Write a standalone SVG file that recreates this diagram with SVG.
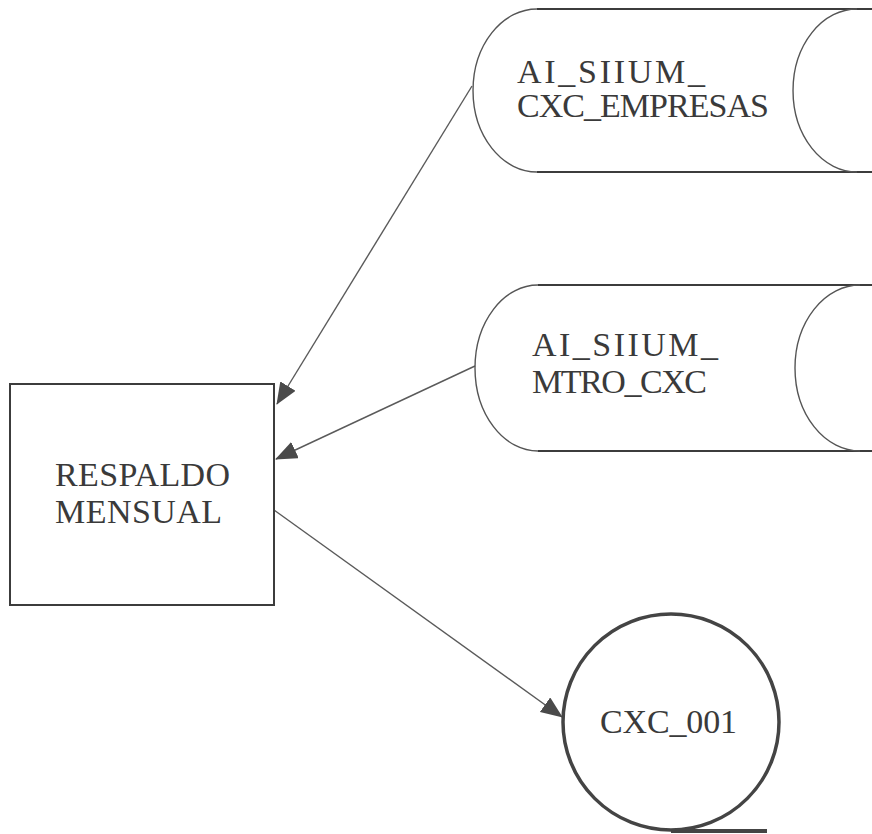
<svg xmlns="http://www.w3.org/2000/svg" width="872" height="834" viewBox="0 0 872 834">
<style>
.lbl{font-family:"Liberation Serif","Times New Roman",serif;font-size:34px;fill:#3a3a3a}
.edge{fill:none;stroke:#3c3c3c;stroke-width:2}
.arc{fill:none;stroke:#555;stroke-width:1.4}
.conn{fill:none;stroke:#5a5a5a;stroke-width:1.4}
</style>
<defs>
<marker id="ah" viewBox="0 0 22 18" refX="21" refY="9" markerWidth="22" markerHeight="18" markerUnits="userSpaceOnUse" orient="auto">
<path d="M0,0 L22,9 L0,18 z" fill="#4a4a4a"/>
</marker>
</defs>
<rect width="872" height="834" fill="#fff"/>
<g id="connectors">
<line class="conn" x1="472" y1="86" x2="277" y2="404" marker-end="url(#ah)"/>
<line class="conn" x1="475" y1="366" x2="276" y2="459" marker-end="url(#ah)"/>
<line class="conn" x1="274" y1="510" x2="562" y2="717" marker-end="url(#ah)"/>
</g>
<g id="ai_siium_cxc_empresas">
<path class="arc" d="M537,9 A64,81.5 0 0 0 537,172"/>
<line class="edge" x1="537" y1="9" x2="872" y2="9"/>
<line class="edge" x1="537" y1="172" x2="872" y2="172"/>
<path class="arc" d="M857,9 A64,81.5 0 0 0 857,172"/>
<text class="lbl" x="517" y="83" textLength="188" lengthAdjust="spacing">AI_SIIUM_</text>
<text class="lbl" x="517" y="117" textLength="252" lengthAdjust="spacing">CXC_EMPRESAS</text>
</g>
<g id="ai_siium_mtro_cxc">
<path class="arc" d="M538,285 A63,83 0 0 0 538,451"/>
<line class="edge" x1="538" y1="285" x2="872" y2="285"/>
<line class="edge" x1="538" y1="451" x2="872" y2="451"/>
<path class="arc" d="M860,285 A65,83 0 0 0 860,451"/>
<text class="lbl" x="532" y="356" textLength="186" lengthAdjust="spacing">AI_SIIUM_</text>
<text class="lbl" x="532" y="393" textLength="175" lengthAdjust="spacing">MTRO_CXC</text>
</g>
<g id="respaldo_mensual">
<rect x="10" y="384" width="264" height="221" fill="#fff" stroke="#3c3c3c" stroke-width="2"/>
<text class="lbl" x="55" y="486" textLength="175" lengthAdjust="spacing">RESPALDO</text>
<text class="lbl" x="55" y="523" textLength="167" lengthAdjust="spacing">MENSUAL</text>
</g>
<g id="cxc_001">
<circle cx="671" cy="722" r="108" fill="#fff" stroke="#444" stroke-width="3.5"/>
<line x1="671" y1="831" x2="767" y2="831" stroke="#444" stroke-width="4"/>
<text class="lbl" x="600" y="733" textLength="137" lengthAdjust="spacing">CXC_001</text>
</g>
</svg>
